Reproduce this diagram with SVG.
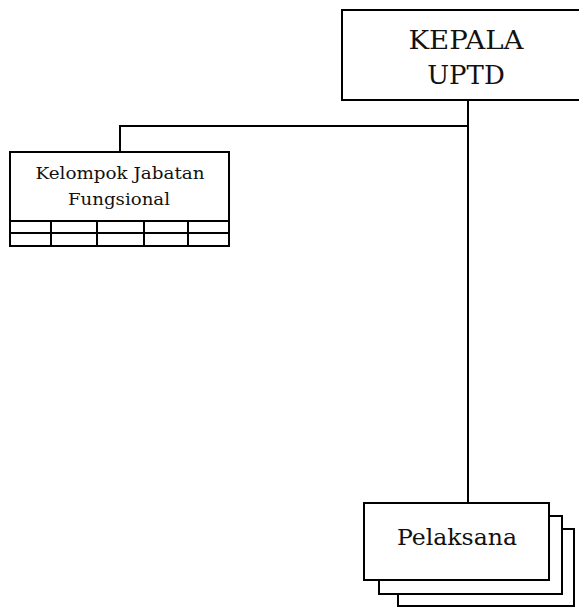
<svg xmlns="http://www.w3.org/2000/svg" width="579" height="607" viewBox="0 0 579 607">
<style>
.box{fill:#fff;stroke:#000;stroke-width:2}
.ln{stroke:#000;stroke-width:2;fill:none}
.t{font-family:"DejaVu Serif","Liberation Serif",serif;fill:#111;text-anchor:middle}
</style>
<rect width="579" height="607" fill="#fff"/>
<g id="connectors">
<line class="ln" x1="468" y1="100" x2="468" y2="503"/>
<line class="ln" x1="120" y1="126" x2="469" y2="126"/>
<line class="ln" x1="120" y1="125" x2="120" y2="152"/>
</g>
<g id="kepala">
<rect class="box" x="342" y="10" width="245" height="90"/>
<text class="t" x="466" y="49" font-size="26" textLength="115" lengthAdjust="spacingAndGlyphs">KEPALA</text>
<text class="t" x="466" y="84" font-size="26">UPTD</text>
</g>
<g id="kelompok">
<rect class="box" x="10" y="152" width="219" height="94"/>
<line class="ln" x1="10" y1="221" x2="229" y2="221" stroke-width="3"/>
<line class="ln" x1="10" y1="233" x2="229" y2="233"/>
<line class="ln" x1="51" y1="221" x2="51" y2="247"/>
<line class="ln" x1="97" y1="221" x2="97" y2="246"/>
<line class="ln" x1="144" y1="221" x2="144" y2="246"/>
<line class="ln" x1="188" y1="221" x2="188" y2="246"/>
<text class="t" x="120" y="179" font-size="16.5" textLength="169" lengthAdjust="spacingAndGlyphs">Kelompok Jabatan</text>
<text class="t" x="119" y="205" font-size="16.5" textLength="102" lengthAdjust="spacingAndGlyphs">Fungsional</text>
</g>
<g id="pelaksana">
<rect class="box" x="398" y="529" width="176" height="77"/>
<rect class="box" x="379" y="516" width="183" height="78"/>
<rect class="box" x="364" y="503" width="185" height="77"/>
<text class="t" x="457" y="545" font-size="22" textLength="120" lengthAdjust="spacingAndGlyphs">Pelaksana</text>
</g>
</svg>
